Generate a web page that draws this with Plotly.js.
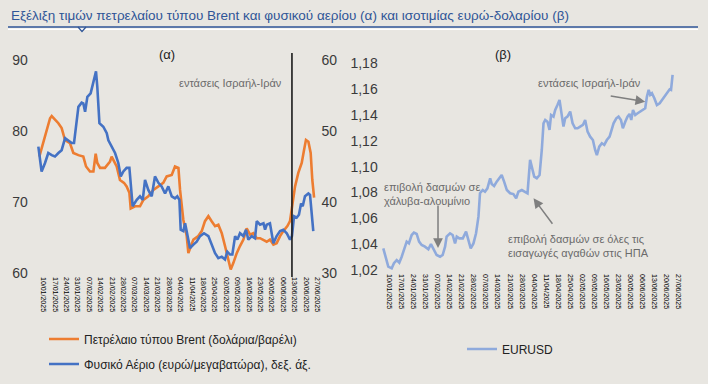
<!DOCTYPE html>
<html><head><meta charset="utf-8">
<script src="https://cdn.plot.ly/plotly-3.0.1.min.js"></script>
<style>html,body{margin:0;padding:0;background:#e8e6e1;}#chart{width:708px;height:384px;}</style>
</head><body><div id="chart"></div>
<script>
// ---- Data (a): Brent (USD/barrel, left axis), Natural gas (EUR/MWh, right axis); x = trading-day offset
const brentDays = [0.6,7.2,8.2,12.3,14.3,16.4,19.4,21.5,24.6,27.6,29.3,31.7,33.8,35.2,36.2,37.9,40.9,44.0,45.0,48.1,50.1,52.6,54.2,55.9,56.7,59.4,62.4,64.5,67.5,70.6,73.7,76.7,78.8,81.9,83.9,86.0,87.0,89.0,91.1,92.1,93.5,95.2,98.2,100.3,102.3,104.4,106.4,108.5,110.5,112.6,114.6,116.7,118.1,119.7,121.8,123.8,125.9,127.9,130.0,132.0,134.1,136.1,138.2,140.2,142.2,144.3,146.3,148.4,150.4,152.9,154.5,156.2,157.6,159.6,161.7,163.1,164.3,165.8,167.2,168.2,169.3];
const brent = [76.4,81.8,82.1,81.1,80.4,78.7,78.3,76.9,76.6,76.4,75.0,74.3,74.3,76.8,75.5,74.8,74.8,75.7,76.4,75.0,73.1,72.7,72.2,71.3,69.1,69.4,69.4,70.3,70.8,71.7,72.2,72.7,73.6,73.8,75.0,74.8,71.7,67.5,65.2,62.8,63.7,64.7,65.2,65.9,67.3,68.0,67.3,66.6,66.8,65.6,63.8,61.9,60.5,61.4,62.8,63.8,64.7,66.3,65.4,65.6,64.9,64.9,64.7,64.4,64.7,64.0,64.2,65.2,65.9,66.6,67.3,70.3,72.2,74.1,75.5,77.3,78.75,78.5,76.9,73.1,70.6];
const gasDays = [0,2.0,4.1,6.1,8.2,10.2,12.3,14.3,16.4,18.4,20.5,21.9,23.1,24.6,26.6,27.6,28.7,30.1,32.1,33.8,35.4,36.2,37.5,39.9,42.0,43.0,45.0,47.1,49.1,50.6,52.2,54.2,55.9,56.9,57.9,60.4,62.4,64.1,65.5,67.5,69.6,71.6,73.7,75.7,77.8,79.8,81.9,83.9,85.3,86.6,87.4,89.0,90.1,92.1,93.1,95.2,97.2,99.3,101.7,104.4,106.4,108.5,110.5,112.6,114.6,116.0,117.7,119.1,120.8,122.2,123.8,125.9,127.5,128.9,131.0,133.0,134.1,136.1,138.2,139.2,140.2,142.2,144.3,146.3,148.4,150.4,152.5,154.5,155.7,157.0,158.6,160.0,161.3,162.3,163.7,165.8,166.8,167.8,168.8];
const gas = [47.8,44.3,45.5,46.9,46.6,46.4,46.9,47.3,49.0,48.7,48.3,48.3,50.6,53.4,54.0,53.9,52.7,54.8,55.3,56.7,58.4,56.2,51.1,50.6,49.7,48.7,47.8,46.9,45.5,43.6,44.3,44.8,44.8,42.2,39.4,40.3,40.8,40.3,43.1,41.7,40.8,43.6,42.7,42.2,41.2,42.2,40.8,40.5,40.8,40.3,36.1,35.9,37.0,34.7,33.5,34.0,34.4,35.2,35.6,35.2,34.0,32.8,32.1,32.3,31.9,33.0,32.6,32.6,35.2,34.7,35.6,35.2,36.1,34.7,35.2,34.9,37.3,36.8,37.0,36.1,36.8,37.0,34.2,35.2,35.9,36.1,35.6,34.7,35.2,38.0,37.8,38.2,39.8,39.4,40.8,41.2,41.0,38.4,35.9];
const eventDayA = 155.7;

// ---- Data (b): EURUSD
const eurDays = [0,1.6,2.9,4.9,6.2,7.8,9.3,10.7,12.0,13.6,14.9,16.5,17.8,19.4,20.8,22.3,24.2,26.2,27.7,29.1,31.0,33.0,34.5,35.9,36.8,38.8,40.3,41.7,42.7,44.2,46.2,48.1,49.5,50.8,52.4,53.9,55.3,56.2,57.8,59.1,60.5,62.1,63.0,64.4,65.9,67.5,68.8,70.2,71.8,73.7,75.6,77.2,78.5,80.5,82.4,83.8,85.3,86.3,87.7,89.2,90.8,92.1,93.1,94.1,95.4,96.6,97.5,98.9,99.9,101.2,102.4,103.4,104.7,105.7,107.0,108.6,110.0,111.5,112.9,114.4,116.0,117.3,118.7,120.2,121.8,123.1,124.1,125.5,127.0,128.4,129.9,131.5,132.8,133.8,135.4,136.7,138.1,139.2,140.6,141.9,143.1,144.1,145.1,146.4,147.8,149.3,150.9,152.2,153.2,154.2,155.1,156.1,157.5,159.0,160.6,161.9,163.3,164.8,166.4,167.2,168.1];
const eurusd = [1.0368,1.029,1.0226,1.0213,1.0252,1.0277,1.0257,1.0303,1.0355,1.042,1.0406,1.0471,1.0489,1.0479,1.042,1.0394,1.0381,1.036,1.0401,1.0368,1.0316,1.0303,1.0316,1.0381,1.0458,1.0484,1.0471,1.0406,1.0458,1.0445,1.0445,1.0497,1.0432,1.0368,1.0406,1.0484,1.0613,1.0794,1.0819,1.0806,1.0832,1.091,1.0866,1.085,1.0884,1.091,1.0935,1.0884,1.0819,1.0794,1.0788,1.0755,1.0806,1.0819,1.0806,1.0794,1.1052,1.0987,1.0923,1.091,1.0935,1.1129,1.1335,1.1361,1.1348,1.1284,1.14,1.1387,1.1439,1.1477,1.1516,1.1426,1.131,1.1374,1.1387,1.1426,1.1335,1.1297,1.1297,1.131,1.1323,1.1361,1.1271,1.1232,1.1206,1.1129,1.109,1.1155,1.1181,1.1168,1.1206,1.1232,1.1284,1.1335,1.1374,1.1387,1.1361,1.1297,1.1348,1.1387,1.1408,1.1361,1.1439,1.14,1.1413,1.1426,1.1439,1.1452,1.1542,1.1594,1.1555,1.1568,1.1529,1.1477,1.149,1.1516,1.1542,1.1568,1.1599,1.1594,1.171];
const steelEvent = [31.8, 1.037];
const tariffEvent = [87.3, 1.0755];
const iranEvent = [152.2, 1.1503];

// ---- Tick labels (weekly dates)
const tickDaysA = [3.2,10.2,17.2,24.2,31.2,38.2,45.2,52.2,59.2,66.2,73.2,80.2,87.2,94.2,101.2,108.2,115.2,122.2,129.2,136.2,143.2,150.2,157.2,164.2,171.2];
const tickDaysB = [3.5,10.5,17.5,24.5,31.5,38.5,45.5,52.5,59.5,66.5,73.5,80.5,87.5,94.5,101.5,108.5,115.5,122.5,129.5,136.5,143.5,150.5,157.5,164.5,171.5];
const tickDates = ["10/01/2025","17/01/2025","24/01/2025","31/01/2025","07/02/2025","14/02/2025","21/02/2025","28/02/2025","07/03/2025","14/03/2025","21/03/2025","28/03/2025","04/04/2025","11/04/2025","18/04/2025","25/04/2025","02/05/2025","09/05/2025","16/05/2025","23/05/2025","30/05/2025","06/06/2025","13/06/2025","20/06/2025","27/06/2025"];

const W = 708, H = 384;
const px = v => v / W, py = v => 1 - v / H;
const FONT = "Liberation Sans, Arial, sans-serif";
const GREY = "#6b6b6b";

const traces = [
  {x: brentDays, y: brent, xaxis: 'x', yaxis: 'y', type: 'scatter', mode: 'lines',
   name: 'Πετρέλαιο τύπου Brent (δολάρια/βαρέλι)', line: {color: '#ed7d31', width: 2.6}, legend: 'legend'},
  {x: gasDays, y: gas, xaxis: 'x', yaxis: 'y2', type: 'scatter', mode: 'lines',
   name: 'Φυσικό Αέριο (ευρώ/μεγαβατώρα), δεξ. άξ.', line: {color: '#4472c4', width: 2.6}, legend: 'legend2'},
  {x: eurDays, y: eurusd, xaxis: 'x2', yaxis: 'y3', type: 'scatter', mode: 'lines',
   name: 'EURUSD', line: {color: '#8faadc', width: 2.6}, legend: 'legend3'}
];

const axX = {showgrid: false, zeroline: false, showline: false, ticks: '', tickangle: 90,
  tickfont: {size: 7, color: '#000', family: FONT}, range: [-1.5, 172], ticklabelstandoff: 3};
const axY = {showgrid: false, zeroline: false, showline: false, ticks: '',
  tickfont: {size: 14, color: '#3a3a3a', family: FONT}};

const legBase = {orientation: 'v', bgcolor: 'rgba(0,0,0,0)', font: {size: 12, color: '#222', family: FONT},
  xanchor: 'left', yanchor: 'middle', itemwidth: 30, tracegroupgap: 0};

const layout = {
  width: W, height: H,
  paper_bgcolor: '#e8e6e1', plot_bgcolor: '#e8e6e1',
  margin: {l: 0, r: 0, t: 0, b: 0},
  separators: ',.',
  font: {family: FONT},
  showlegend: true,
  xaxis: Object.assign({}, axX, {domain: [px(35.9), px(318.5)], anchor: 'y', tickvals: tickDaysA, ticktext: tickDates}),
  yaxis: Object.assign({}, axY, {domain: [py(273), py(60)], range: [60, 90], dtick: 10, anchor: 'x', ticklabelstandoff: 7}),
  yaxis2: Object.assign({}, axY, {overlaying: 'y', side: 'right', anchor: 'x', range: [30, 60], dtick: 10, ticklabelstandoff: 2}),
  xaxis2: Object.assign({}, axX, {domain: [px(380.7), px(679.3)], anchor: 'y3', tickvals: tickDaysB, ticktext: tickDates}),
  yaxis3: Object.assign({}, axY, {domain: [py(270), py(63.3)], range: [1.02, 1.18], dtick: 0.02, tickformat: '.2f', anchor: 'x2', ticklabelstandoff: 2}),
  legend: Object.assign({}, legBase, {x: px(44), y: py(339)}),
  legend2: Object.assign({}, legBase, {x: px(44), y: py(364)}),
  legend3: Object.assign({}, legBase, {x: px(462), y: py(349)}),
  shapes: [
    {type: 'line', xref: 'paper', yref: 'paper', x0: px(8), x1: px(698), y0: py(27), y1: py(27), line: {color: '#2f5597', width: 1.5}},
    {type: 'line', xref: 'paper', yref: 'paper', x0: px(8), x1: px(698), y0: py(29.3), y1: py(29.3), line: {color: '#ffffff', width: 1.5}},
    {type: 'path', xref: 'paper', yref: 'paper',
     path: `M ${px(78)} ${py(27)} L ${px(82)} ${py(31.5)} L ${px(86)} ${py(27)}`, line: {color: '#2f5597', width: 1.2}},
    {type: 'line', xref: 'x', yref: 'paper', x0: eventDayA, x1: eventDayA, y0: py(277), y1: py(53), line: {color: '#1a1a1a', width: 1.6}}
  ],
  annotations: [
    {xref: 'paper', yref: 'paper', x: px(9), y: py(16), xanchor: 'left', yanchor: 'middle', showarrow: false,
     text: 'Εξέλιξη τιμών πετρελαίου τύπου Brent και φυσικού αερίου (α) και ισοτιμίας ευρώ-δολαρίου (β)',
     font: {size: 13.5, color: '#2f5597', family: FONT}},
    {xref: 'paper', yref: 'paper', x: px(167), y: py(55), xanchor: 'center', yanchor: 'middle', showarrow: false,
     text: '(α)', font: {size: 13, color: '#222', family: FONT}},
    {xref: 'paper', yref: 'paper', x: px(503), y: py(55), xanchor: 'center', yanchor: 'middle', showarrow: false,
     text: '(β)', font: {size: 13, color: '#222', family: FONT}},
    {xref: 'paper', yref: 'paper', x: px(284), y: py(83), xanchor: 'right', yanchor: 'middle', showarrow: false,
     text: 'εντάσεις Ισραήλ-Ιράν', font: {size: 11, color: GREY, family: FONT}},
    {xref: 'paper', yref: 'paper', x: px(382), y: py(194), xanchor: 'left', yanchor: 'middle', showarrow: false, align: 'left',
     text: 'επιβολή δασμών σε<br>χάλυβα-αλουμίνιο', font: {size: 11, color: GREY, family: FONT}},
    {xref: 'paper', yref: 'paper', x: px(506), y: py(246), xanchor: 'left', yanchor: 'middle', showarrow: false, align: 'left',
     text: 'επιβολή δασμών σε όλες τις<br>εισαγωγές αγαθών στις ΗΠΑ', font: {size: 11, color: GREY, family: FONT}},
    {xref: 'paper', yref: 'paper', x: px(536), y: py(83), xanchor: 'left', yanchor: 'middle', showarrow: false,
     text: 'εντάσεις Ισραήλ-Ιράν', font: {size: 11, color: GREY, family: FONT}},
    {xref: 'x2', yref: 'y3', x: steelEvent[0], y: steelEvent[1], ax: 0, ay: -44, text: '', showarrow: true,
     arrowhead: 2, arrowsize: 1.3, arrowwidth: 1.5, arrowcolor: '#7f7f7f'},
    {xref: 'x2', yref: 'y3', x: tariffEvent[0], y: tariffEvent[1], ax: 20, ay: 27, text: '', showarrow: true,
     arrowhead: 2, arrowsize: 1.3, arrowwidth: 1.5, arrowcolor: '#7f7f7f'},
    {xref: 'x2', yref: 'y3', x: iranEvent[0], y: iranEvent[1], ax: -36, ay: -6, text: '', showarrow: true,
     arrowhead: 2, arrowsize: 1.3, arrowwidth: 1.5, arrowcolor: '#7f7f7f'}
  ]
};

Plotly.newPlot('chart', traces, layout, {displayModeBar: false, staticPlot: true});
</script></body></html>
